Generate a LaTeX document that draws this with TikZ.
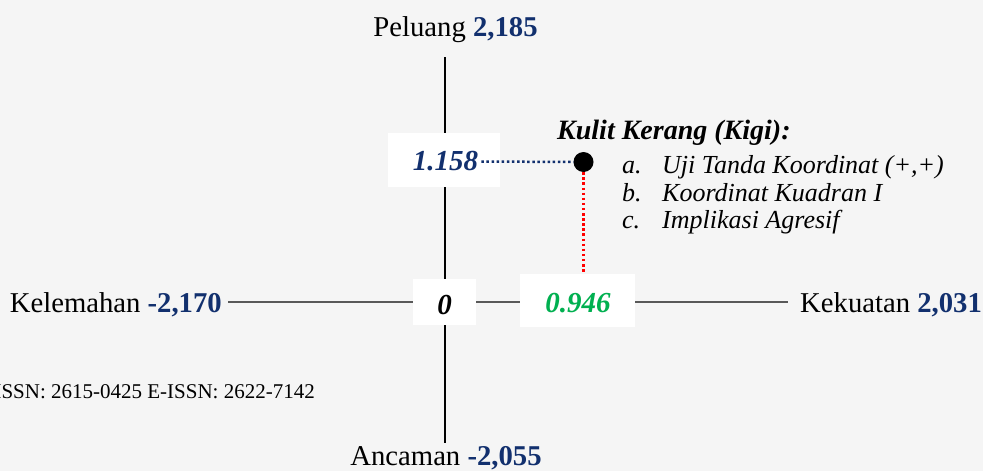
\documentclass[tikz,border=0pt]{standalone}
\usepackage{fontspec}
\setmainfont{Liberation Serif}
\definecolor{navy}{HTML}{12306E}
\definecolor{kgreen}{HTML}{00B050}
\definecolor{bg}{HTML}{F5F5F5}
\definecolor{axgray}{HTML}{595959}
\begin{document}
\begin{tikzpicture}[x=1pt,y=-1pt,
  lbl/.style={inner sep=0pt, font=\fontsize{28.7}{34}\selectfont},
  numbox/.style={fill=white, draw=none, inner sep=0pt},
  num/.style={inner sep=0pt, font=\fontsize{29}{34}\selectfont\bfseries\itshape},
  itm/.style={inner sep=0pt, anchor=base west, font=\fontsize{26}{31}\selectfont\itshape},
  axisline/.style={line width=2pt},
  dotline/.style={line width=2.5pt, dash pattern=on 2.5pt off 2.6pt}]
\fill[bg] (0,0) rectangle (983,471);
\clip (0,0) rectangle (983,471);
\useasboundingbox (0,0) rectangle (983,471);

% axis labels
\node[lbl, anchor=base] (pel) at (455.5,36) {Peluang \textbf{\textcolor{navy}{2,185}}};
\node[lbl, anchor=base] (anc) at (446,465.5) {Ancaman \textbf{\textcolor{navy}{-2,055}}};
\node[lbl, anchor=base east] (kel) at (222,312) {Kelemahan \textbf{\textcolor{navy}{-2,170}}};
\node[lbl, anchor=base west] (kek) at (800,312) {Kekuatan \textbf{\textcolor{navy}{2,031}}};

% axes
\coordinate (vtop) at (444.5,57);
\coordinate (vbot) at (444.5,443);
\coordinate (hl) at (228,301.5);
\coordinate (hr) at (788,301.5);
\draw[axisline, black] (vtop) -- (vbot);
\draw[axisline, axgray] (hl) -- (hr);

% value boxes
\node[numbox, minimum width=112pt, minimum height=54pt] (b1) at (444,160) {};
\node[num, text=navy] (t1) at (445.5,161.5) {1.158};
\node[numbox, minimum width=63pt, minimum height=46pt] (b0) at (444.5,302) {};
\node[num, text=black] (t0) at (444.5,305) {0};
\node[numbox, minimum width=115pt, minimum height=53pt] (b2) at (577.5,300.5) {};
\node[num, text=kgreen] (t2) at (578,303.5) {0.946};

% point
\node[circle, fill=black, minimum size=20pt, inner sep=0pt] (pt) at (583.5,162) {};
\draw[dotline, navy, shorten <=3pt] (t1.east) -- (pt.west);
\draw[dotline, red] (pt.south) -- (pt.south |- b2.north);

% description
\node[inner sep=0pt, anchor=base west, font=\fontsize{28}{33}\selectfont\bfseries\itshape] (title) at (557,139) {Kulit Kerang (Kigi):};
\node[itm] (la) at (622,173) {a.};
\node[itm] (ia) at (662,173) {Uji Tanda Koordinat (+,+)};
\node[itm] (lb) at (622,201) {b.};
\node[itm] (ib) at (662,201) {Koordinat Kuadran I};
\node[itm] (lc) at (622,228) {c.};
\node[itm] (ic) at (662,228) {Implikasi Agresif};

% footer text
\node[inner sep=0pt, anchor=base east, font=\fontsize{21}{25}\selectfont] (issn) at (315,398) {ISSN: 2615-0425 E-ISSN: 2622-7142};
\end{tikzpicture}
\end{document}
